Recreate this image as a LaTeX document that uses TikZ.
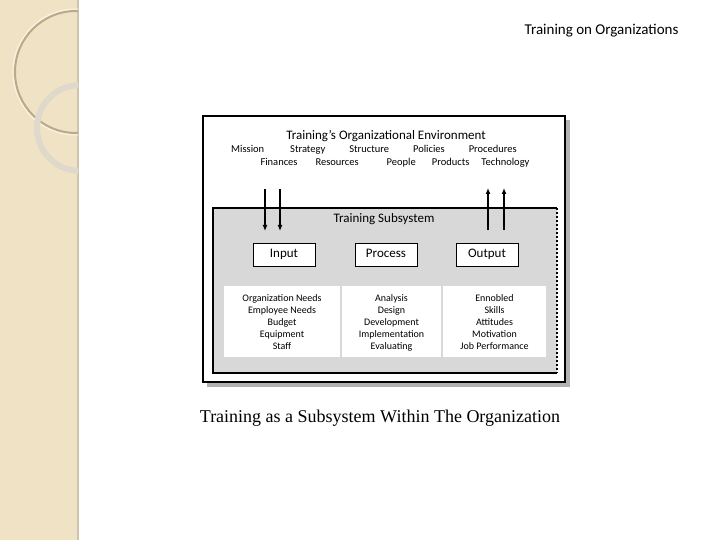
\documentclass[tikz,border=0pt]{standalone}
\usepackage{fontspec}
\setmainfont{Carlito}
\newfontfamily\capfont{Liberation Serif}
\usetikzlibrary{positioning, arrows.meta}
\definecolor{strip}{RGB}{240,226,196}
\definecolor{ring}{RGB}{185,170,140}
\definecolor{sysgray}{RGB}{216,216,216}
\begin{document}
\begin{tikzpicture}[x=1pt,y=-1pt,
            > = {Latex[length=6pt,width=5pt]}, % arrow head style
            item/.style={font=\fontsize{10}{12}\selectfont, align=center},
            stage/.style={draw, thick, fill=white, minimum width=62pt, minimum height=23pt, text height=1.6ex, text depth=.4ex, font=\fontsize{13}{15}\selectfont},
            cell/.style={fill=white, minimum height=71pt, anchor=north, inner sep=0pt, item}
        ]
        \useasboundingbox (0,0) rectangle (720,540);
        % left strip
        \fill[strip] (0,0) rectangle (78,540);
        \draw[ring!70, line width=1.5pt] (78,0) -- (78,540);
        \begin{scope}
          \clip (0,0) rectangle (78,540);
          \draw[ring, line width=2pt] (76,72) circle (61);
          \draw[white!60!strip, line width=1pt] (76,72) circle (63);
          \draw[ring!45, line width=6pt] (80,128) circle (43);
        \end{scope}
        \node[anchor=east, font=\fontsize{15}{17}\selectfont] (head) at (682,31) {Training on Organizations};

        % environment box
        \fill[gray!60] (207,120) rectangle (570,387);
        \draw[line width=2.5pt, fill=white] (203,116) rectangle (565,382);
        \node[font=\fontsize{13}{15}\selectfont] (env) at (386,136) {Training's Organizational Environment};
        \node[item, font=\fontsize{10.5}{12}\selectfont] (r1) at (374,150) {Mission\hspace{26pt}Strategy\hspace{24pt}Structure\hspace{24pt}Policies\hspace{24pt}Procedures};
        \node[item, font=\fontsize{10.5}{12}\selectfont] (r2) at (395,163) {Finances\hspace{18pt}Resources\hspace{28pt}People\hspace{16pt}Products\hspace{12pt}Technology};

        % subsystem box
        \fill[sysgray] (213,208) rectangle (557,373);
        \draw[line width=2pt] (557,208) -- (213,208) -- (213,373) -- (557,373);
        \draw[line width=2pt, dotted] (557,208) -- (557,373);
        \node[font=\fontsize{13}{15}\selectfont] (sub) at (384,219) {Training Subsystem};

        \node[stage] (in) at (284,255) {Input};
        \node[stage] (pr) at (386,255) {Process};
        \node[stage] (out) at (487,255) {Output};

        \node[cell, minimum width=116pt] (cin) at (282,286) {\strut Organization Needs\\Employee Needs\\Budget\\Equipment\\Staff};
        \node[cell, minimum width=99pt] (cpr) at (391.5,286) {\strut Analysis\\Design\\Development\\Implementation\\Evaluating};
        \node[cell, minimum width=103pt] (cout) at (494.5,286) {\strut Ennobled\\Skills\\Attitudes\\Motivation\\Job Performance};

        \coordinate (a1) at (265,189);
        \coordinate (a2) at (280,189);
        \coordinate (b1) at (488,230);
        \coordinate (b2) at (504,230);
        \draw[->, line width=1.3pt] (a1) -- ++(0,42);
        \draw[->, line width=1.3pt] (a2) -- ++(0,42);
        \draw[->, line width=1.3pt] (b1) -- ++(0,-42);
        \draw[->, line width=1.3pt] (b2) -- ++(0,-42);

        \node[font=\capfont\fontsize{18}{21}\selectfont] (cap) at (380,418) {Training as a Subsystem Within The Organization};
\end{tikzpicture}
\end{document}
